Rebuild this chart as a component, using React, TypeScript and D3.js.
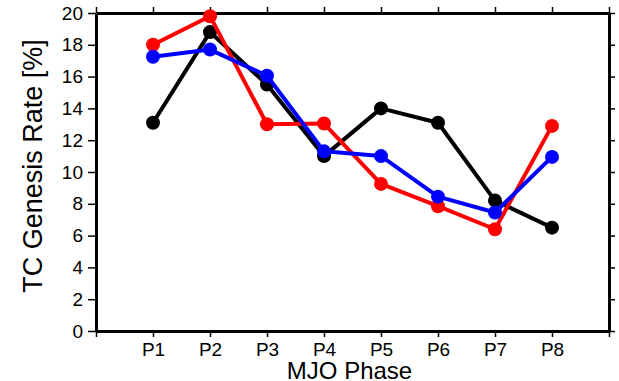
import { useEffect, useRef } from 'react'
import * as d3 from 'd3'

const phases = ['P1', 'P2', 'P3', 'P4', 'P5', 'P6', 'P7', 'P8']
const blackVals = [13.1, 18.8, 15.5, 11.0, 14.0, 13.1, 8.2, 6.5]
const redVals = [18.0, 19.8, 13.0, 13.05, 9.25, 7.85, 6.4, 12.9]
const blueVals = [17.25, 17.7, 16.05, 11.3, 11.0, 8.45, 7.45, 10.95]
const yTicks = [0, 2, 4, 6, 8, 10, 12, 14, 16, 18, 20]

const series = [
  { name: 'black', color: '#000', values: blackVals },
  { name: 'red', color: '#ff0000', values: redVals },
  { name: 'blue', color: '#0000ff', values: blueVals },
]

export default function App() {
  const ref = useRef<SVGSVGElement>(null)

  useEffect(() => {
    const svg = d3.select(ref.current!)
    svg.selectAll('*').remove()
    const W = 619, H = 381
    const m = { t: 13, r: 10, b: 50, l: 96 }
    const iW = W - m.l - m.r, iH = H - m.t - m.b
    const font = 'Liberation Sans, Arial, Helvetica, sans-serif'
    const x = d3.scaleLinear().domain([0, phases.length + 1]).range([0, iW])
    const y = d3.scaleLinear().domain([0, 20]).range([iH, 0])
    const g = svg.append('g').attr('transform', `translate(${m.l},${m.t})`)

    const xt = phases.map((_, i) => i + 1)
    const allX = [0, ...xt, phases.length + 1]

    const bottom = g.append('g').attr('transform', `translate(0,${iH})`)
      .call(d3.axisBottom(x).tickValues(allX).tickSize(6).tickSizeOuter(0)
        .tickFormat((d) => phases[(d as number) - 1] ?? ''))
    const top = g.append('g').call(d3.axisTop(x).tickValues(allX).tickSize(6).tickSizeOuter(0).tickFormat(() => ''))
    const left = g.append('g').call(d3.axisLeft(y).tickValues(yTicks).tickSize(8).tickSizeOuter(0).tickFormat(d3.format('d')))
    const right = g.append('g').attr('transform', `translate(${iW},0)`)
      .call(d3.axisRight(y).tickValues(yTicks).tickSize(6).tickSizeOuter(0).tickFormat(() => ''))

    for (const a of [bottom, top, left, right]) {
      a.select('.domain').attr('stroke', '#000').attr('stroke-width', 3)
      a.selectAll('.tick line').attr('stroke', '#000').attr('stroke-width', 1.5)
      a.selectAll('text').attr('fill', '#000').attr('font-size', 19).attr('font-family', font)
    }
    bottom.selectAll('text').attr('y', 0).attr('dy', 0).attr('transform', 'translate(0,25)')
    left.selectAll('text').attr('x', -13)

    const line = d3.line<number>().x((_, i) => x(i + 1)).y(v => y(v))
    series.forEach(s => {
      g.append('path').datum(s.values).attr('fill', 'none').attr('stroke', s.color)
        .attr('stroke-width', 4).attr('stroke-linejoin', 'round').attr('d', line)
      g.selectAll(null).data(s.values).enter().append('circle')
        .attr('cx', (_, i) => x(i + 1)).attr('cy', v => y(v)).attr('r', 7).attr('fill', s.color)
    })

    svg.append('text').attr('x', m.l + iW / 2 - 3).attr('y', 379).attr('text-anchor', 'middle')
      .attr('font-family', font).attr('font-size', 24).text('MJO Phase')
    svg.append('text').attr('transform', `translate(42,${m.t + iH / 2 - 6}) rotate(-90)`).attr('text-anchor', 'middle')
      .attr('font-family', font).attr('font-size', 27).text('TC Genesis Rate [%]')
  }, [])

  return <svg ref={ref} width={619} height={381} style={{ position: 'absolute', left: 0, top: 0 }} />
}
